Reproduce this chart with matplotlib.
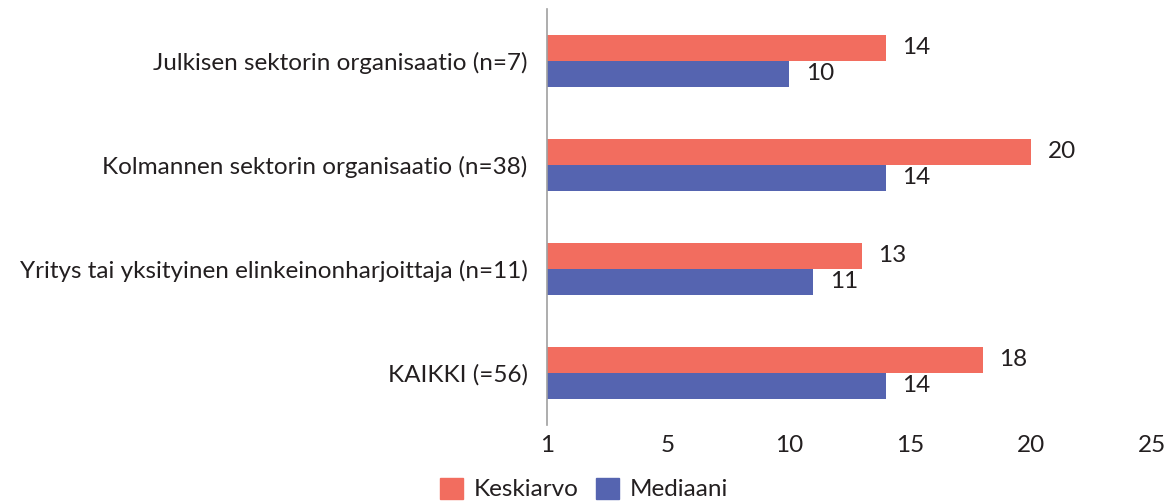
import numpy as np
import matplotlib
matplotlib.use("Agg")
import matplotlib.pyplot as plt
from matplotlib.patches import Patch

categories = [
    "Julkisen sektorin organisaatio (n=7)",
    "Kolmannen sektorin organisaatio (n=38)",
    "Yritys tai yksityinen elinkeinonharjoittaja (n=11)",
    "KAIKKI (=56)",
]
keskiarvo = [14, 20, 13, 18]
mediaani = [10, 14, 11, 14]
tick_vals = [0, 5, 10, 15, 20, 25]
tick_labels = ["1", "5", "10", "15", "20", "25"]

red = "#F26D5F"
blue = "#5564B0"
txt = "#231f20"
fs = 17.5

plt.rcParams["font.family"] = ["Lato", "DejaVu Sans"]

fig = plt.figure(figsize=(11.75, 5.01), dpi=100)
ax = fig.add_axes([547 / 1175, 1 - 425 / 501, (1152 - 547) / 1175, 416 / 501])

y = np.arange(len(categories))
h = 0.25
b1 = ax.barh(y - h / 2, keskiarvo, height=h, color=red)
b2 = ax.barh(y + h / 2, mediaani, height=h, color=blue)

for bars, vals in ((b1, keskiarvo), (b2, mediaani)):
    for bar, v in zip(bars, vals):
        ax.annotate(str(v), (bar.get_width(), bar.get_y() + bar.get_height() / 2),
                    xytext=(12, 0), textcoords="offset points",
                    ha="left", va="center", fontsize=fs, color=txt)

ax.set_xlim(0, 25)
ax.set_ylim(len(categories) - 0.5, -0.5)
ax.set_yticks(y)
ax.set_yticklabels(categories, fontsize=fs, color=txt)
ax.set_xticks(tick_vals)
ax.set_xticklabels(tick_labels, fontsize=fs, color=txt)
ax.tick_params(axis="both", length=0)
ax.tick_params(axis="y", pad=14)
ax.tick_params(axis="x", pad=7)

for s in ("top", "right", "bottom"):
    ax.spines[s].set_visible(False)
ax.spines["left"].set_color("#a0a0a0")
ax.spines["left"].set_linewidth(1.2)

handles = [Patch(color=red, label="Keskiarvo"), Patch(color=blue, label="Mediaani")]
leg = fig.legend(handles=handles, loc="center", bbox_to_anchor=(0.497, 0.024),
                 ncol=2, frameon=False, fontsize=fs, handlelength=0.95,
                 handleheight=0.95, handletextpad=0.41, columnspacing=0.74,
                 borderaxespad=0, borderpad=0)
for t in leg.get_texts():
    t.set_color(txt)

fig.savefig("out.png", dpi=100)
